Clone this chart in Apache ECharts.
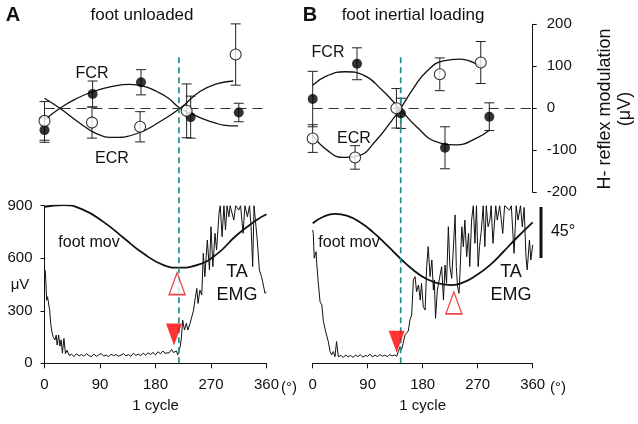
<!DOCTYPE html>
<html>
<head>
<meta charset="utf-8">
<script src="https://cdn.jsdelivr.net/npm/echarts@6/dist/echarts.min.js"></script>
<style>
    html, body {margin: 0; padding: 0; background: #fff;}
    #chart {width: 638px; height: 424px;}
</style>
</head>
<body>
<div id="chart"></div>
<script>
// ===== H-reflex modulation (top panels) =====
// A: foot unloaded
const fcrPhaseA = [0, 78, 156.5, 237, 315]
const fcrA = [-52, 34, 62, -21, -10]
const fcrErrA = [29, 31, 30, 50, 22]
const ecrPhaseA = [0, 77, 155, 230.5, 310]
const ecrA = [-30, -34, -44, -6, 128]
const ecrErrA = [46, 37, 36, 64, 73]
const fcrFitAngA = [0, 25, 50, 79, 110, 138, 160, 182, 200, 220, 240, 258, 275, 290, 314]
const fcrFitA = [-28, 0, 22, 40, 52, 57, 53, 40, 25, 0, -14, -26, -34, -40, -42]
const ecrFitAngA = [0, 25, 58, 85, 112, 150, 187, 220, 252, 279, 306]
const ecrFitA = [24, 0, -36, -61, -69, -60, -32, 0, 40, 58, 65]

// B: foot inertial loading
const fcrPhaseB = [0, 72.5, 144.3, 216.5, 289]
const fcrB = [22, 106, -12, -94, -20]
const fcrErrB = [66, 38, 36, 50, 33]
const ecrPhaseB = [0, 69.3, 137, 208, 275]
const ecrB = [-72, -117, 0, 81, 109]
const ecrErrB = [33, 28, 47, 39, 50]
const fcrFitAngB = [0, 23, 53, 83, 113, 143, 170, 203, 235, 268, 289]
const fcrFitB = [55, 77, 87, 79, 44, -2, -44, -80, -87, -71, -52]
const ecrFitAngB = [0, 23, 51, 75, 104, 126, 143, 165, 186, 214, 241, 263, 276]
const ecrFitB = [-64, -99, -117, -113, -76, -36, -2, 48, 87, 113, 117, 109, 99]

// ===== foot movement + TA EMG (bottom panels) =====
const footAngA = [0, 30, 63, 95, 128, 160, 193, 217, 247, 279, 312, 344, 360]
const footA = [894, 904, 876, 809, 717, 628, 561, 546, 561, 622, 733, 818, 851]
const footAngB = [0, 17.5, 36.5, 55.6, 77.4, 99, 121, 143, 164.6, 186.5, 208, 227.4, 246.5, 268.4, 290, 312, 334, 360]
const footB = [800, 837, 853, 843, 805, 748, 676, 600, 533, 481, 455, 447, 462, 504, 561, 637, 717, 805]

const emgAngA = [0, 1.5, 3.5, 5, 7, 8.5, 10, 12, 14, 17, 19, 20.5, 23, 25, 27, 29, 31.5, 34, 36.5, 40,
    44, 48, 52, 56, 60, 64, 68, 72, 76, 80, 84, 88, 92, 96, 100, 104, 108, 112, 116, 120,
    124, 128, 132, 136, 140, 144, 148, 152, 156, 160, 164, 168, 172, 176, 180, 184, 188, 192, 195, 198,
    202, 206, 209, 211, 214, 216, 218, 220, 222, 224, 227, 230, 232.5, 236, 239, 241.5, 244, 247, 249, 252,
    255, 257.5, 260, 264, 267.5, 270, 273, 276.5, 279, 283, 285, 288, 291, 293.5, 296, 299, 301, 304, 307, 310,
    312, 315, 318, 322, 325, 329, 332.5, 335, 337.6, 339.8, 342, 345, 348.4, 352, 355, 357.6, 360]
const emgA = [540, 520, 360, 380, 333, 300, 228, 180, 152, 133, 161, 104, 161, 98, 134, 58, 142, 55, 74, 45,
    52, 38, 55, 42, 50, 40, 55, 44, 38, 52, 40, 48, 56, 41, 47, 38, 52, 44, 50, 40,
    47, 55, 43, 50, 40, 58, 45, 52, 44, 57, 47, 60, 50, 62, 48, 66, 55, 70, 58, 66,
    60, 79, 62, 58, 70, 48, 38, 95, 143, 247, 190, 228, 190, 228, 238, 300, 361, 428, 342, 418,
    390, 628, 495, 704, 533, 780, 552, 742, 647, 857, 900, 723, 900, 761, 900, 837, 900, 900, 818, 900,
    900, 875, 900, 742, 900, 837, 900, 780, 552, 900, 900, 704, 533, 495, 504, 400, 409]

const emgAngB = [0, 1, 2.5, 3.8, 5.5, 6.6, 9, 12, 15, 17.5, 20, 22.6, 25.6, 28.4, 31, 33.8, 36.5, 39, 42, 46,
    50, 54, 58, 62, 66, 70, 74, 78, 82, 86, 90, 94, 98, 102, 106, 110, 114, 118, 122, 126,
    130, 134, 137.4, 140, 143, 145.5, 148, 151, 152.7, 156.5, 159, 162, 164.7, 167.5, 170, 173, 176, 178, 181, 184,
    186.5, 189, 192, 195, 197.5, 199, 201, 204, 207, 211, 214, 216.5, 219, 222, 224.5, 227.5, 230, 233, 235, 237,
    239.4, 241, 244, 246.5, 249, 252, 255, 257, 260, 262.8, 265.5, 268, 270.7, 273, 276, 279, 281.7, 284, 287, 290,
    292, 295, 299.5, 302, 306, 311, 314, 317, 322, 325, 329.5, 333, 336, 340, 343, 346, 349, 351, 354.7, 357, 360]
const emgB = [761, 740, 600, 590, 637, 571, 466, 352, 333, 238, 200, 162, 123, 67, 48, 67, 38, 124, 38, 45,
    33, 48, 36, 45, 34, 47, 38, 50, 35, 44, 40, 52, 36, 46, 38, 50, 40, 47, 38, 50,
    42, 48, 40, 67, 95, 80, 114, 162, 171, 185, 247, 276, 476, 495, 409, 447, 361, 457, 323, 304,
    552, 666, 495, 590, 418, 476, 257, 418, 476, 552, 361, 561, 457, 780, 552, 485, 647, 847, 552, 438,
    400, 514, 780, 666, 818, 609, 742, 552, 818, 900, 685, 900, 552, 666, 761, 900, 666, 900, 780, 818,
    900, 685, 900, 818, 900, 742, 900, 900, 875, 900, 628, 900, 818, 900, 780, 890, 609, 533, 704, 590, 676]

// EMG onset (filled) and foot reversal (open) markers: [angle, µV]
const onsetA = [210, 165]
const reversalA = [215, 455]
const onsetB = [137.4, 123]
const reversalB = [231, 345]

// dashed cue lines (angle)
const cueA = 218
const cueB = 144

const FONT = 'Liberation Sans, Arial, sans-serif'
const INK = '#111'

const pairs = (xs, ys) => xs.map((x, i) => [x, ys[i]])
const errRows = (xs, ys, es) => xs.map((x, i) => [x, ys[i] - es[i], ys[i] + es[i]])

function renderErr(params, api) {
    const x = api.value(0)
    const lo = api.coord([x, api.value(1)])
    const hi = api.coord([x, api.value(2)])
    const cap = 5
    const style = {stroke: '#222', lineWidth: 1}
    return {
        type: 'group', children: [
            {type: 'line', shape: {x1: lo[0], y1: lo[1], x2: hi[0], y2: hi[1]}, style},
            {type: 'line', shape: {x1: lo[0] - cap, y1: lo[1], x2: lo[0] + cap, y2: lo[1]}, style},
            {type: 'line', shape: {x1: hi[0] - cap, y1: hi[1], x2: hi[0] + cap, y2: hi[1]}, style},
        ]
    }
}

// ---- axes ----
const hiddenX = (grid) => ({
    type: 'value', gridIndex: grid, min: 0, max: 360, show: false
})
const cycleX = (grid) => ({
    type: 'value', gridIndex: grid, min: 0, max: 360, interval: 90,
    axisLine: {show: true, onZero: false, lineStyle: {color: INK, width: 1}},
    axisTick: {show: true, length: 5, lineStyle: {color: INK}},
    axisLabel: {show: true, margin: 14, fontSize: 15, color: INK, fontFamily: FONT},
    splitLine: {show: false},
    name: '1 cycle', nameLocation: 'middle', nameGap: 35,
    nameTextStyle: {fontSize: 15, color: INK, fontFamily: FONT}
})

const xAxes = [hiddenX(0), hiddenX(1), cycleX(2), cycleX(3), hiddenX(4), hiddenX(5)]
const yAxes = [
    {type: 'value', gridIndex: 0, min: -200, max: 200, show: false},
    {
        type: 'value', gridIndex: 1, min: -200, max: 200, interval: 100, position: 'right',
        axisLine: {show: true, onZero: false, lineStyle: {color: INK}},
        axisTick: {show: true, length: 4, lineStyle: {color: INK}},
        axisLabel: {show: true, margin: 14, fontSize: 15, color: INK, fontFamily: FONT},
        splitLine: {show: false}
    },
    {
        type: 'value', gridIndex: 2, min: 0, max: 900, interval: 300,
        axisLine: {show: true, onZero: false, lineStyle: {color: INK}},
        axisTick: {show: true, length: 4, lineStyle: {color: INK}},
        axisLabel: {show: true, margin: 12, fontSize: 15, color: INK, fontFamily: FONT},
        splitLine: {show: false}
    },
    {type: 'value', gridIndex: 3, min: 0, max: 900, show: false},
    {type: 'value', gridIndex: 4, min: 0, max: 1, show: false},
    {type: 'value', gridIndex: 5, min: 0, max: 1, show: false},
]

// ---- series ----
const zeroMark = {
    silent: true, symbol: 'none', label: {show: false},
    lineStyle: {color: '#333', type: [10, 6], width: 1},
    data: [{yAxis: 0}]
}
const curve = (grid, data, extra) => Object.assign({
    type: 'line', xAxisIndex: grid, yAxisIndex: grid, data,
    smooth: true, showSymbol: false, silent: true,
    lineStyle: {color: INK, width: 1.3}
}, extra || {})
const errSeries = (grid, rows) => ({
    type: 'custom', xAxisIndex: grid, yAxisIndex: grid, data: rows,
    renderItem: renderErr, encode: {x: 0, y: [1, 2]}, clip: false, silent: true
})
const filledDots = (grid, data) => ({
    type: 'scatter', xAxisIndex: grid, yAxisIndex: grid, data, symbolSize: 10,
    itemStyle: {color: '#000'}, silent: true, z: 5
})
const openDots = (grid, data) => ({
    type: 'scatter', xAxisIndex: grid, yAxisIndex: grid, data, symbolSize: 11,
    itemStyle: {color: '#fff', borderColor: '#000', borderWidth: 1.1}, silent: true, z: 5
})
const marker = (grid, pt, open) => ({
    type: 'scatter', xAxisIndex: grid, yAxisIndex: grid, data: [pt],
    symbol: 'triangle', symbolSize: [16, 22], symbolRotate: open ? 0 : 180, silent: true, z: 6,
    itemStyle: open ? {color: '#fff', borderColor: '#e8141b', borderWidth: 1.4} : {color: '#ff0000'}
})
const cueLine = (grid, angle) => ({
    type: 'line', xAxisIndex: grid, yAxisIndex: grid, data: [[angle, 0], [angle, 1]],
    showSymbol: false, silent: true, z: 4,
    lineStyle: {color: '#1f8f8c', width: 1.7, type: [6, 4]}
})

const series = [
    // top A
    curve(0, pairs(fcrFitAngA, fcrFitA), {markLine: zeroMark}),
    curve(0, pairs(ecrFitAngA, ecrFitA)),
    errSeries(0, errRows(fcrPhaseA, fcrA, fcrErrA)),
    errSeries(0, errRows(ecrPhaseA, ecrA, ecrErrA)),
    filledDots(0, pairs(fcrPhaseA, fcrA)),
    openDots(0, pairs(ecrPhaseA, ecrA)),
    // top B
    curve(1, pairs(fcrFitAngB, fcrFitB), {markLine: zeroMark}),
    curve(1, pairs(ecrFitAngB, ecrFitB)),
    errSeries(1, errRows(fcrPhaseB, fcrB, fcrErrB)),
    errSeries(1, errRows(ecrPhaseB, ecrB, ecrErrB)),
    filledDots(1, pairs(fcrPhaseB, fcrB)),
    openDots(1, pairs(ecrPhaseB, ecrB)),
    // bottom A
    curve(2, pairs(emgAngA, emgA), {smooth: false, lineStyle: {color: INK, width: 1}}),
    curve(2, pairs(footAngA, footA), {lineStyle: {color: INK, width: 1.8}}),
    marker(2, onsetA, false),
    marker(2, reversalA, true),
    // bottom B
    curve(3, pairs(emgAngB, emgB), {smooth: false, lineStyle: {color: INK, width: 1}}),
    curve(3, pairs(footAngB, footB), {lineStyle: {color: INK, width: 1.8}}),
    marker(3, onsetB, false),
    marker(3, reversalB, true),
    // cue lines across top and bottom
    cueLine(4, cueA),
    cueLine(5, cueB),
]

const txt = (x, y, text, size, extra) => ({
    type: 'text', x, y, silent: true,
    style: Object.assign({
        text, fill: INK, font: `${size}px ${FONT}`, align: 'center', verticalAlign: 'middle'
    }, extra || {})
})

const graphic = [
    txt(13, 15, 'A', 20, {font: `bold 20px ${FONT}`}),
    txt(142, 15, 'foot unloaded', 17),
    txt(310, 15, 'B', 20, {font: `bold 20px ${FONT}`}),
    txt(413, 15, 'foot inertial loading', 17),
    txt(92, 74, 'FCR', 16),
    txt(112, 159, 'ECR', 16),
    txt(328, 53, 'FCR', 16),
    txt(354, 139, 'ECR', 16),
    txt(89, 243, 'foot mov', 16),
    txt(349, 243, 'foot mov', 16),
    txt(237, 272, 'TA', 18),
    txt(237, 295, 'EMG', 18),
    txt(511, 272, 'TA', 18),
    txt(511, 295, 'EMG', 18),
    txt(20, 285, 'μV', 15),
    txt(563, 232, '45°', 16),
    txt(289, 388, '(°)', 15),
    txt(558, 388, '(°)', 15),
    {
        type: 'text', x: 615, y: 109, rotation: Math.PI / 2, silent: true,
        style: {
            text: 'H- reflex modulation\n(μV)', fill: INK, font: `18px ${FONT}`,
            align: 'center', verticalAlign: 'middle', lineHeight: 20
        }
    },
    {
        type: 'line', silent: true,
        shape: {x1: 541, y1: 207, x2: 541, y2: 258},
        style: {stroke: INK, lineWidth: 3}
    },
]

const grids = [
    {left: 44.5, top: 24.3, width: 222, height: 168},
    {left: 312.7, top: 24.3, width: 220, height: 168},
    {left: 44.5, top: 205.7, width: 222, height: 157.6},
    {left: 312.7, top: 205.7, width: 220, height: 157.6},
    {left: 44.5, top: 55, width: 222, height: 308.3},
    {left: 312.7, top: 55, width: 220, height: 308.3},
].map(g => Object.assign({outerBoundsMode: 'none', containLabel: false}, g))

const myChart = echarts.init(document.getElementById('chart'), null, {renderer: 'canvas'})
myChart.setOption({
    animation: false,
    backgroundColor: '#fff',
    grid: grids,
    xAxis: xAxes,
    yAxis: yAxes,
    series,
    graphic,
})
</script>
</body>
</html>
